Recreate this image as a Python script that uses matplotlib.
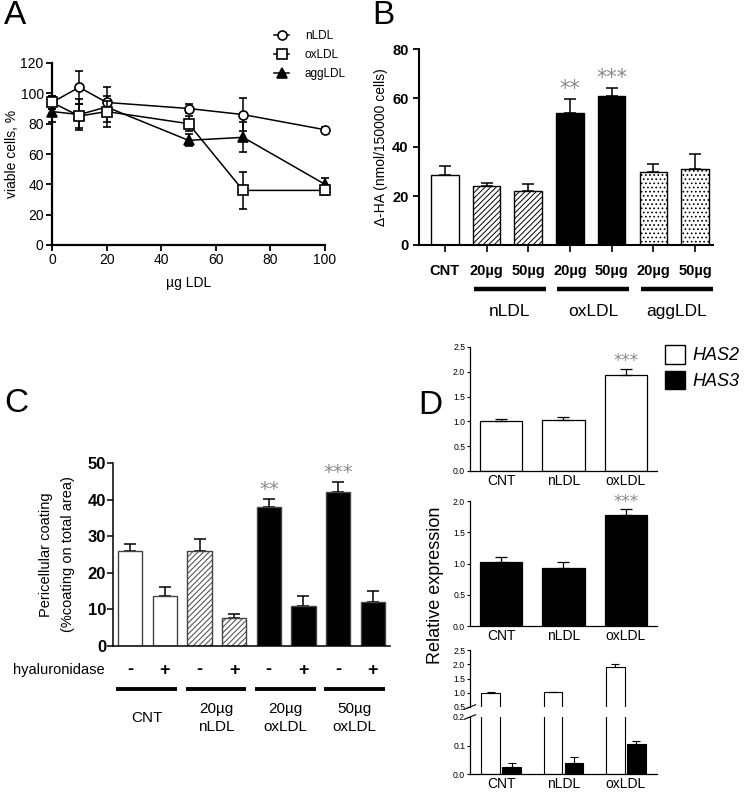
import matplotlib
matplotlib.use('Agg')
import matplotlib.pyplot as plt
from matplotlib.patches import Patch
from matplotlib.lines import Line2D
import numpy as np

plt.rcParams['font.family'] = ['Liberation Sans', 'DejaVu Sans']
plt.rcParams['hatch.linewidth'] = 0.7

# ---- data ----
# A: cell viability
dose = [0, 10, 20, 50, 70, 100]
a_nldl = [94, 104, 94, 90, 86, 76]
a_nldl_err = [4, 11, 4, 3, 11, 2]
a_oxldl = [94, 85, 88, 80, 36, 36]
a_oxldl_err = [4, 8, 7, 5, 12, 3]
a_aggldl = [88, 86, 91, 69, 71, 40]
a_aggldl_err = [7, 10, 13, 4, 10, 4]

# B: HA synthesis
b_labels = ['CNT', '20µg', '50µg', '20µg', '50µg', '20µg', '50µg']
b_values = [28.7, 24.1, 21.9, 53.8, 60.9, 30.0, 31.2]
b_err = [3.6, 1.4, 3.0, 5.7, 3.0, 3.1, 6.0]
b_groups = ['nLDL', 'oxLDL', 'aggLDL']
b_stars = {3: '**', 4: '***'}

# C: pericellular coating
c_signs = ['-', '+', '-', '+', '-', '+', '-', '+']
c_values = [25.9, 13.6, 25.9, 7.6, 37.9, 11.0, 42.0, 11.9]
c_err = [2.0, 2.6, 3.4, 1.2, 2.2, 2.6, 2.9, 3.2]
c_groups = ['CNT', '20µg\nnLDL', '20µg\noxLDL', '50µg\noxLDL']
c_stars = {4: '**', 6: '***'}

# D: relative expression
d_labels = ['CNT', 'nLDL', 'oxLDL']
d_has2 = [1.00, 1.02, 1.94]
d_has2_err = [0.05, 0.06, 0.12]
d_has3 = [1.02, 0.93, 1.78]
d_has3_err = [0.08, 0.09, 0.09]
d_both_has2 = [1.00, 1.02, 1.92]
d_both_has2_err = [0.02, 0.02, 0.08]
d_both_has3 = [0.025, 0.038, 0.105]
d_both_has3_err = [0.013, 0.020, 0.012]

W, H = 745, 798
fig = plt.figure(figsize=(W / 100, H / 100), dpi=100)


def axes_px(l, t, r, b):
    return fig.add_axes([l / W, 1 - b / H, (r - l) / W, (b - t) / H])


def fy(y):
    return 1 - y / H


def frac(t, b, y):
    # pixel y -> axes fraction for an axes spanning pixel rows t..b
    return (b - y) / (b - t)


def clean(ax, lw=1.2):
    for s in ['top', 'right']:
        ax.spines[s].set_visible(False)
    for s in ['left', 'bottom']:
        ax.spines[s].set_linewidth(lw)


star_color = '#8a8a8a'

# ---------------- A ----------------
axA = axes_px(52, 63, 325, 245)
clean(axA, 1.6)
kw = dict(color='black', lw=1.1, capsize=3, elinewidth=1.1, capthick=1.1, markersize=6.5)
series = [(a_nldl, a_nldl_err, 'o', 'white', 'nLDL', 3),
          (a_oxldl, a_oxldl_err, 's', 'white', 'oxLDL', 4),
          (a_aggldl, a_aggldl_err, '^', 'black', 'aggLDL', 2)]
handles = []
for vals, errs, m, fc, name, z in series:
    cont = axA.errorbar(dose, vals, yerr=errs, marker=m, mfc=fc, mec='black', mew=1.2,
                        zorder=z, **kw)
    for art in cont.get_children():
        art.set_clip_on(False)
    handles.append(Line2D([], [], color='black', lw=1.1, marker=m, mfc=fc, mec='black',
                          mew=1.2, markersize=6.5, label=name))
axA.set_xlim(0, 100)
axA.set_ylim(0, 120)
axA.set_xticks(range(0, 101, 20))
axA.set_yticks(range(0, 121, 20))
axA.tick_params(labelsize=10, width=1.3, length=4, pad=2)
axA.set_xlabel('µg LDL', fontsize=10, labelpad=6)
fig.text(12 / W, fy(154), 'viable cells, %', rotation=90, fontsize=10, ha='center', va='center')
axA.legend(handles=handles, loc='upper left', bbox_to_anchor=(274 / W, fy(30)),
           bbox_transform=fig.transFigure, frameon=False, fontsize=8.5, handlelength=1.3,
           labelspacing=0.6, handletextpad=1.3, borderaxespad=0, borderpad=0)
fig.text(4 / W, fy(16), 'A', fontsize=24, va='center', ha='left')

# ---------------- B ----------------
tB, bB = 49, 245
axB = axes_px(419, tB, 713, bB)
clean(axB, 1.5)
xb = np.arange(len(b_values))
b_face = ['white', 'white', 'white', 'black', 'black', 'white', 'white']
b_hatch = [None, '//////', '//////', None, None, '....', '....']
for i in xb:
    axB.bar(i, b_values[i], width=0.66, color=b_face[i], edgecolor='black', lw=1.0,
            hatch=b_hatch[i], zorder=2)
    axB.errorbar(i, b_values[i], yerr=[[0], [b_err[i]]], color='black', capsize=4,
                 elinewidth=1.1, capthick=1.1, zorder=1)
axB.set_xlim(-0.62, 6.43)
axB.set_ylim(0, 80)
axB.set_yticks(range(0, 81, 20))
axB.set_xticks(xb)
axB.set_xticklabels(b_labels, fontsize=10.5, fontweight='bold')
axB.tick_params(axis='x', length=5, width=1.2, pad=9)
axB.tick_params(axis='y', labelsize=10.5, width=1.3, length=4)
for lab in axB.get_yticklabels():
    lab.set_fontweight('bold')
axB.set_ylabel('Δ-HA (nmol/150000 cells)', fontsize=10, labelpad=3)
for i, s in b_stars.items():
    axB.annotate(s, (i, b_values[i] + b_err[i]), xytext=(0, 0), textcoords='offset points',
                 ha='center', va='bottom', fontsize=15, color=star_color, family='DejaVu Sans')
tr = axB.get_xaxis_transform()
for g, name in enumerate(b_groups):
    i0 = 1 + 2 * g
    axB.plot([i0 - 0.3, i0 + 1.42], [frac(tB, bB, 289)] * 2, color='black', lw=3.2,
             transform=tr, clip_on=False, solid_capstyle='butt')
    axB.text(i0 + 0.56, frac(tB, bB, 312), name, transform=tr, ha='center', va='center',
             fontsize=12.5)
fig.text(372 / W, fy(16), 'B', fontsize=24, va='center', ha='left')

# ---------------- C ----------------
tC, bC = 463, 646
axC = axes_px(113, tC, 390, bC)
clean(axC, 1.1)
xc = np.arange(len(c_values))
c_face = ['white', 'white', 'white', 'white', 'black', 'black', 'black', 'black']
c_hatch = [None, None, '//////', '//////', None, None, None, None]
for i in xc:
    axC.bar(i, c_values[i], width=0.7, color=c_face[i], edgecolor='#444444', lw=1.0,
            hatch=c_hatch[i], zorder=2)
    axC.errorbar(i, c_values[i], yerr=[[0], [c_err[i]]], color='black', capsize=4,
                 elinewidth=1.1, capthick=1.1, zorder=1)
axC.set_xlim(-0.5, 7.5)
axC.set_ylim(0, 50)
axC.set_yticks(range(0, 51, 10))
axC.set_xticks([])
axC.tick_params(axis='y', labelsize=12, width=1.1, length=4, pad=1)
for lab in axC.get_yticklabels():
    lab.set_fontweight('bold')
axC.set_ylabel('Pericellular coating\n(%coating on total area)', fontsize=10.5, labelpad=9,
               linespacing=1.75)
for i, s in c_stars.items():
    axC.annotate(s, (i, c_values[i] + c_err[i]), xytext=(0, 0), textcoords='offset points',
                 ha='center', va='bottom', fontsize=14, color=star_color, family='DejaVu Sans')
trc = axC.get_xaxis_transform()
for i in xc:
    axC.text(i, frac(tC, bC, 670), c_signs[i], transform=trc, ha='center', va='center',
             fontsize=13, fontweight='bold')
axC.text(-0.5, frac(tC, bC, 670), 'hyaluronidase  ', transform=trc, ha='right', va='center',
         fontsize=10.5)
for g, name in enumerate(c_groups):
    i0 = 2 * g
    axC.plot([i0 - 0.4, i0 + 1.35], [frac(tC, bC, 689)] * 2, color='black', lw=2.8,
             transform=trc, clip_on=False, solid_capstyle='butt')
    axC.text(i0 + 0.48, frac(tC, bC, 718), name, transform=trc, ha='center', va='center',
             fontsize=11, linespacing=1.45)
fig.text(4 / W, fy(404), 'C', fontsize=24, va='center', ha='left')

# ---------------- D ----------------
xd = np.arange(len(d_labels))
dtick = dict(labelsize=6.2, width=0.8, length=2.5, pad=1)


def d_axes(t, b):
    ax = axes_px(470, t, 657, b)
    clean(ax, 0.9)
    ax.set_xlim(-0.5, 2.5)
    ax.tick_params(axis='y', **dtick)
    ax.tick_params(axis='x', length=0, labelsize=10, pad=2)
    return ax


# top: HAS2
axD1 = d_axes(347, 471)
axD1.bar(xd, d_has2, width=0.68, color='white', edgecolor='black', lw=0.9)
axD1.errorbar(xd, d_has2, yerr=[[0] * 3, d_has2_err], fmt='none', ecolor='black',
              capsize=4, elinewidth=0.9, capthick=0.9)
axD1.set_ylim(0, 2.5)
axD1.set_yticks(np.arange(0, 2.51, 0.5))
axD1.set_yticklabels(['0.0', '0.5', '1.0', '1.5', '2.0', '2.5'])
axD1.set_xticks(xd)
axD1.set_xticklabels(d_labels)
axD1.annotate('***', (2, d_has2[2] + d_has2_err[2]), xytext=(0, -1), textcoords='offset points',
              ha='center', va='bottom', fontsize=12, color=star_color, family='DejaVu Sans')

# middle: HAS3
axD2 = d_axes(501, 626)
axD2.bar(xd, d_has3, width=0.68, color='black', edgecolor='black', lw=0.9)
axD2.errorbar(xd, d_has3, yerr=[[0] * 3, d_has3_err], fmt='none', ecolor='black',
              capsize=4, elinewidth=0.9, capthick=0.9)
axD2.set_ylim(0, 2.0)
axD2.set_yticks(np.arange(0, 2.01, 0.5))
axD2.set_yticklabels(['0.0', '0.5', '1.0', '1.5', '2.0'])
axD2.set_xticks(xd)
axD2.set_xticklabels(d_labels)
axD2.annotate('***', (2, d_has3[2] + d_has3_err[2]), xytext=(0, -1), textcoords='offset points',
              ha='center', va='bottom', fontsize=12, color=star_color, family='DejaVu Sans')

# bottom: broken axis, both genes
axD3 = d_axes(650, 707)
axD4 = d_axes(717, 774)
axD3.spines['bottom'].set_visible(False)
for ax in (axD3, axD4):
    ax.bar(xd - 0.17, d_both_has2, width=0.3, color='white', edgecolor='black', lw=0.8)
    ax.bar(xd + 0.17, d_both_has3, width=0.3, color='black', edgecolor='black', lw=0.8)
axD3.errorbar(xd - 0.17, d_both_has2, yerr=[[0] * 3, d_both_has2_err], fmt='none',
              ecolor='black', capsize=3, elinewidth=0.8, capthick=0.8)
axD4.errorbar(xd + 0.17, d_both_has3, yerr=[[0] * 3, d_both_has3_err], fmt='none',
              ecolor='black', capsize=3, elinewidth=0.8, capthick=0.8)
axD3.set_ylim(0.5, 2.5)
axD3.set_yticks(np.arange(0.5, 2.51, 0.5))
axD3.set_yticklabels(['0.5', '1.0', '1.5', '2.0', '2.5'])
axD3.set_xticks([])
axD4.set_ylim(0, 0.2)
axD4.set_yticks([0, 0.1, 0.2])
axD4.set_yticklabels(['0.0', '0.1', '0.2'])
axD4.set_xticks(xd)
axD4.set_xticklabels(d_labels)
# break marks on the left spine
for ax, yy in ((axD3, 0.0), (axD4, 1.0)):
    ax.plot([-0.03, 0.03], [yy - 0.04, yy + 0.04], transform=ax.transAxes, color='black',
            lw=0.8, clip_on=False)

fig.text(435 / W, fy(585), 'Relative expression', rotation=90, fontsize=13,
         ha='center', va='center')
fig.text(418 / W, fy(405), 'D', fontsize=24, va='center', ha='left')
fig.legend(handles=[Patch(facecolor='white', edgecolor='black', lw=1.0),
                    Patch(facecolor='black', edgecolor='black')],
           labels=['HAS2', 'HAS3'], loc='upper left', bbox_to_anchor=(665 / W, fy(345)),
           frameon=False, prop={'style': 'italic', 'size': 13}, handlelength=1.1,
           handleheight=1.2, handletextpad=0.4, labelspacing=0.35, borderaxespad=0,
           borderpad=0)

fig.savefig('out.png', dpi=100)
